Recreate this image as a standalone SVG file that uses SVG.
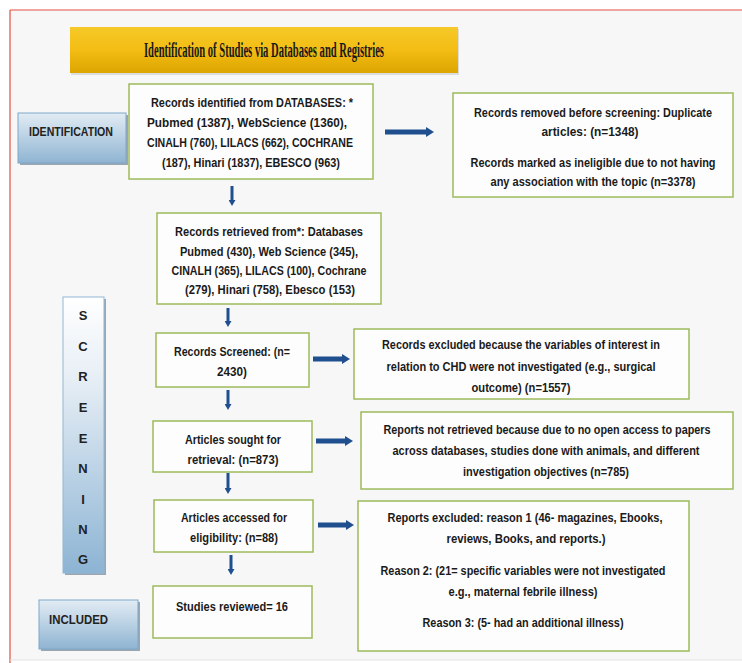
<svg xmlns="http://www.w3.org/2000/svg" width="742" height="663" viewBox="0 0 742 663">
<style>
.box{fill:#fdfdfd;stroke:#9dbb5c;stroke-width:1.5}
.t{font-family:"Liberation Sans",Arial,sans-serif;font-weight:bold;font-size:13px;fill:#1a1a1a;text-anchor:middle}
.lab{font-family:"Liberation Sans",Arial,sans-serif;font-weight:bold;font-size:13px;fill:#222}
.ra{stroke:#1f4f8e;stroke-width:5;fill:none}
.da{stroke:#1f4f8e;stroke-width:3;fill:none}
</style>
<defs>
<linearGradient id="gold" x1="0" y1="0" x2="0" y2="1">
<stop offset="0" stop-color="#f6c928"/><stop offset="0.5" stop-color="#f3bd14"/><stop offset="1" stop-color="#dca500"/>
</linearGradient>
<linearGradient id="blue" x1="0" y1="0" x2="0" y2="1">
<stop offset="0" stop-color="#e2ecf4"/><stop offset="1" stop-color="#8fb4d2"/>
</linearGradient>
<linearGradient id="blueV" x1="0" y1="0" x2="0" y2="1">
<stop offset="0" stop-color="#ffffff"/><stop offset="0.3" stop-color="#e6eef5"/><stop offset="1" stop-color="#8db4d4"/>
</linearGradient>
<marker id="hr" markerUnits="userSpaceOnUse" markerWidth="8" markerHeight="10" refX="0" refY="5" orient="auto">
<path d="M0,0 L8,5 L0,10 z" fill="#1f4f8e"/>
</marker>
<marker id="hd" markerUnits="userSpaceOnUse" markerWidth="6" markerHeight="7" refX="0" refY="3.5" orient="auto">
<path d="M0,0 L6,3.5 L0,7 z" fill="#1f4f8e"/>
</marker>
</defs>
<rect x="0" y="0" width="742" height="663" fill="#ffffff"/>
<rect x="10" y="10" width="732" height="650" fill="#f7f7f7"/>
<line x1="10" y1="10" x2="742" y2="10" stroke="#e05040" stroke-width="1.2"/>
<line x1="10" y1="10" x2="10" y2="663" stroke="#e05040" stroke-width="1.2"/>
<line x1="10" y1="660" x2="742" y2="660" stroke="#e4e4e4" stroke-width="1"/>

<g id="title">
<rect x="71" y="29" width="388" height="46" fill="#c9c9c9" opacity="0.6"/>
<rect x="70" y="27" width="388" height="46" fill="url(#gold)"/>
<text x="264" y="57" font-family="'Liberation Serif','Times New Roman',serif" font-weight="bold" font-size="20" fill="#1a1a1a" text-anchor="middle" textLength="240" lengthAdjust="spacingAndGlyphs">Identification of Studies via Databases and Registries</text>
</g>

<g id="identification">
<rect x="20" y="115" width="108" height="50" fill="#9aa7b2"/>
<rect x="18" y="113" width="108" height="50" fill="url(#blue)" stroke="#7fa7c8" stroke-width="1"/>
<text class="lab" x="29" y="136" textLength="84" lengthAdjust="spacingAndGlyphs">IDENTIFICATION</text>
</g>

<g id="screening">
<rect x="65" y="299" width="41" height="276" fill="#9aa7b2"/>
<rect x="63" y="297" width="41" height="276" fill="url(#blueV)" stroke="#8fb7d6" stroke-width="1"/>
<g class="lab" text-anchor="middle">
<text x="83" y="320">S</text><text x="83" y="351">C</text><text x="83" y="381">R</text>
<text x="83" y="412">E</text><text x="83" y="443">E</text><text x="83" y="473">N</text>
<text x="83" y="504">I</text><text x="83" y="534">N</text><text x="83" y="564">G</text>
</g>
</g>

<g id="included">
<rect x="41" y="602" width="99" height="49" fill="#9aa7b2"/>
<rect x="39" y="600" width="99" height="49" fill="url(#blue)" stroke="#7fa7c8" stroke-width="1"/>
<text class="lab" x="49" y="624" textLength="59" lengthAdjust="spacingAndGlyphs">INCLUDED</text>
</g>

<g id="records-identified">
<rect class="box" x="129" y="84" width="244" height="95"/>
<text class="t" x="252" y="107" textLength="202" lengthAdjust="spacingAndGlyphs">Records identified from DATABASES: *</text>
<text class="t" x="247" y="127" textLength="200" lengthAdjust="spacingAndGlyphs">Pubmed (1387), WebScience (1360),</text>
<text class="t" x="250" y="147" textLength="206" lengthAdjust="spacingAndGlyphs">CINALH (760), LILACS (662), COCHRANE</text>
<text class="t" x="251" y="167" textLength="178" lengthAdjust="spacingAndGlyphs">(187), Hinari (1837), EBESCO (963)</text>
</g>

<g id="records-removed">
<rect class="box" x="453" y="93" width="280" height="104"/>
<text class="t" x="593" y="117" textLength="238" lengthAdjust="spacingAndGlyphs">Records removed before screening: Duplicate</text>
<text class="t" x="590" y="136" textLength="97" lengthAdjust="spacingAndGlyphs">articles: (n=1348)</text>
<text class="t" x="593" y="167" textLength="245" lengthAdjust="spacingAndGlyphs">Records marked as ineligible due to not having</text>
<text class="t" x="593" y="186" textLength="205" lengthAdjust="spacingAndGlyphs">any association with the topic (n=3378)</text>
</g>

<g id="records-retrieved">
<rect class="box" x="157" y="213" width="224" height="91"/>
<text class="t" x="269" y="236" textLength="188" lengthAdjust="spacingAndGlyphs">Records retrieved from*: Databases</text>
<text class="t" x="269" y="256" textLength="178" lengthAdjust="spacingAndGlyphs">Pubmed (430), Web Science (345),</text>
<text class="t" x="269" y="275" textLength="195" lengthAdjust="spacingAndGlyphs">CINALH (365), LILACS (100), Cochrane</text>
<text class="t" x="270" y="294" textLength="170" lengthAdjust="spacingAndGlyphs">(279), Hinari (758), Ebesco (153)</text>
</g>

<g id="records-screened">
<rect class="box" x="156" y="333" width="153" height="54"/>
<text class="t" x="232" y="356" textLength="116" lengthAdjust="spacingAndGlyphs">Records Screened: (n=</text>
<text class="t" x="232" y="376" textLength="30" lengthAdjust="spacingAndGlyphs">2430)</text>
</g>

<g id="records-excluded">
<rect class="box" x="354" y="329" width="335" height="70"/>
<text class="t" x="521" y="349" textLength="278" lengthAdjust="spacingAndGlyphs">Records excluded because the variables of interest in</text>
<text class="t" x="521" y="371" textLength="269" lengthAdjust="spacingAndGlyphs">relation to CHD were not investigated (e.g., surgical</text>
<text class="t" x="521" y="392" textLength="99" lengthAdjust="spacingAndGlyphs">outcome) (n=1557)</text>
</g>

<g id="articles-sought">
<rect class="box" x="153" y="421" width="159" height="51"/>
<text class="t" x="233" y="444" textLength="96" lengthAdjust="spacingAndGlyphs">Articles sought for</text>
<text class="t" x="233" y="464" textLength="91" lengthAdjust="spacingAndGlyphs">retrieval: (n=873)</text>
</g>

<g id="reports-not-retrieved">
<rect class="box" x="361" y="412" width="372" height="77"/>
<text class="t" x="547" y="434" textLength="327" lengthAdjust="spacingAndGlyphs">Reports not retrieved because due to no open access to papers</text>
<text class="t" x="546" y="455" textLength="307" lengthAdjust="spacingAndGlyphs">across databases, studies done with animals, and different</text>
<text class="t" x="546" y="476" textLength="166" lengthAdjust="spacingAndGlyphs">investigation objectives (n=785)</text>
</g>

<g id="articles-accessed">
<rect class="box" x="154" y="500" width="159" height="52"/>
<text class="t" x="234" y="522" textLength="106" lengthAdjust="spacingAndGlyphs">Articles accessed for</text>
<text class="t" x="234" y="542" textLength="88" lengthAdjust="spacingAndGlyphs">eligibility: (n=88)</text>
</g>

<g id="reports-excluded">
<rect class="box" x="358" y="501" width="331" height="150"/>
<text class="t" x="525" y="522" textLength="275" lengthAdjust="spacingAndGlyphs">Reports excluded: reason 1 (46- magazines, Ebooks,</text>
<text class="t" x="526" y="543" textLength="159" lengthAdjust="spacingAndGlyphs">reviews, Books, and reports.)</text>
<text class="t" x="523" y="575" textLength="285" lengthAdjust="spacingAndGlyphs">Reason 2: (21= specific variables were not investigated</text>
<text class="t" x="523" y="596" textLength="149" lengthAdjust="spacingAndGlyphs">e.g., maternal febrile illness)</text>
<text class="t" x="523" y="627" textLength="201" lengthAdjust="spacingAndGlyphs">Reason 3: (5- had an additional illness)</text>
</g>

<g id="studies-reviewed">
<rect class="box" x="153" y="586" width="159" height="52"/>
<text class="t" x="232" y="611" textLength="112" lengthAdjust="spacingAndGlyphs">Studies reviewed= 16</text>
</g>

<g id="connectors">
<line class="ra" x1="385" y1="132" x2="426" y2="132" marker-end="url(#hr)"/>
<line class="ra" x1="313" y1="359" x2="342" y2="359" marker-end="url(#hr)"/>
<line class="ra" x1="316" y1="441" x2="345" y2="441" marker-end="url(#hr)"/>
<line class="ra" x1="318" y1="525" x2="346" y2="525" marker-end="url(#hr)"/>
<line class="da" x1="232" y1="186" x2="232" y2="200" marker-end="url(#hd)"/>
<line class="da" x1="228" y1="308" x2="228" y2="321" marker-end="url(#hd)"/>
<line class="da" x1="228" y1="390" x2="228" y2="404" marker-end="url(#hd)"/>
<line class="da" x1="228" y1="473" x2="228" y2="488" marker-end="url(#hd)"/>
<line class="da" x1="231" y1="555" x2="231" y2="569" marker-end="url(#hd)"/>
</g>
</svg>
